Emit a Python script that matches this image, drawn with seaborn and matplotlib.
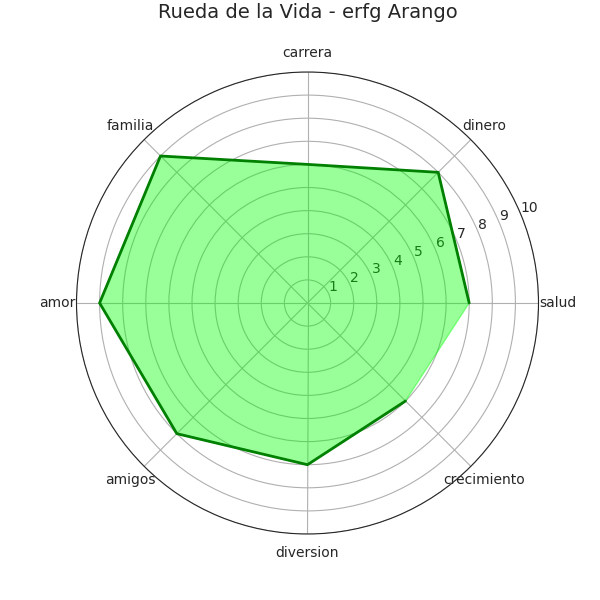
import matplotlib

matplotlib.use("Agg")
import matplotlib.pyplot as plt
import numpy as np
import seaborn as sns

categories = ["salud", "dinero", "carrera", "familia", "amor", "amigos", "diversion", "crecimiento"]
values = [7, 8, 6, 9, 9, 8, 7, 6]
rticks = [1, 2, 3, 4, 5, 6, 7, 8, 9, 10]

sns.set_style("white")
plt.rcParams["font.family"] = ["DejaVu Sans"]

angles = np.linspace(0, 2 * np.pi, len(categories), endpoint=False)
closed_angles = np.concatenate([angles, angles[:1]])
closed_values = values + values[:1]

fig = plt.figure(figsize=(6, 6), dpi=100)
ax = fig.add_subplot(111, polar=True)
ax.fill(closed_angles, closed_values, color="lime", alpha=0.4)
sns.lineplot(x=closed_angles, y=closed_values, ax=ax, color="green", linewidth=2, sort=False)
ax.set_xticks(angles)
ax.set_xticklabels(categories)
ax.set_ylim(0, 10)
ax.set_yticks(rticks)
ax.set_yticklabels([str(t) for t in rticks])
ax.set_rlabel_position(22.5)
ax.grid(True, color="#b0b0b0")
ax.set_xlabel("")
ax.set_ylabel("")
ax.set_title("Rueda de la Vida - erfg Arango", fontsize=14, pad=20)
plt.savefig("out.png", dpi=100)
plt.close()
